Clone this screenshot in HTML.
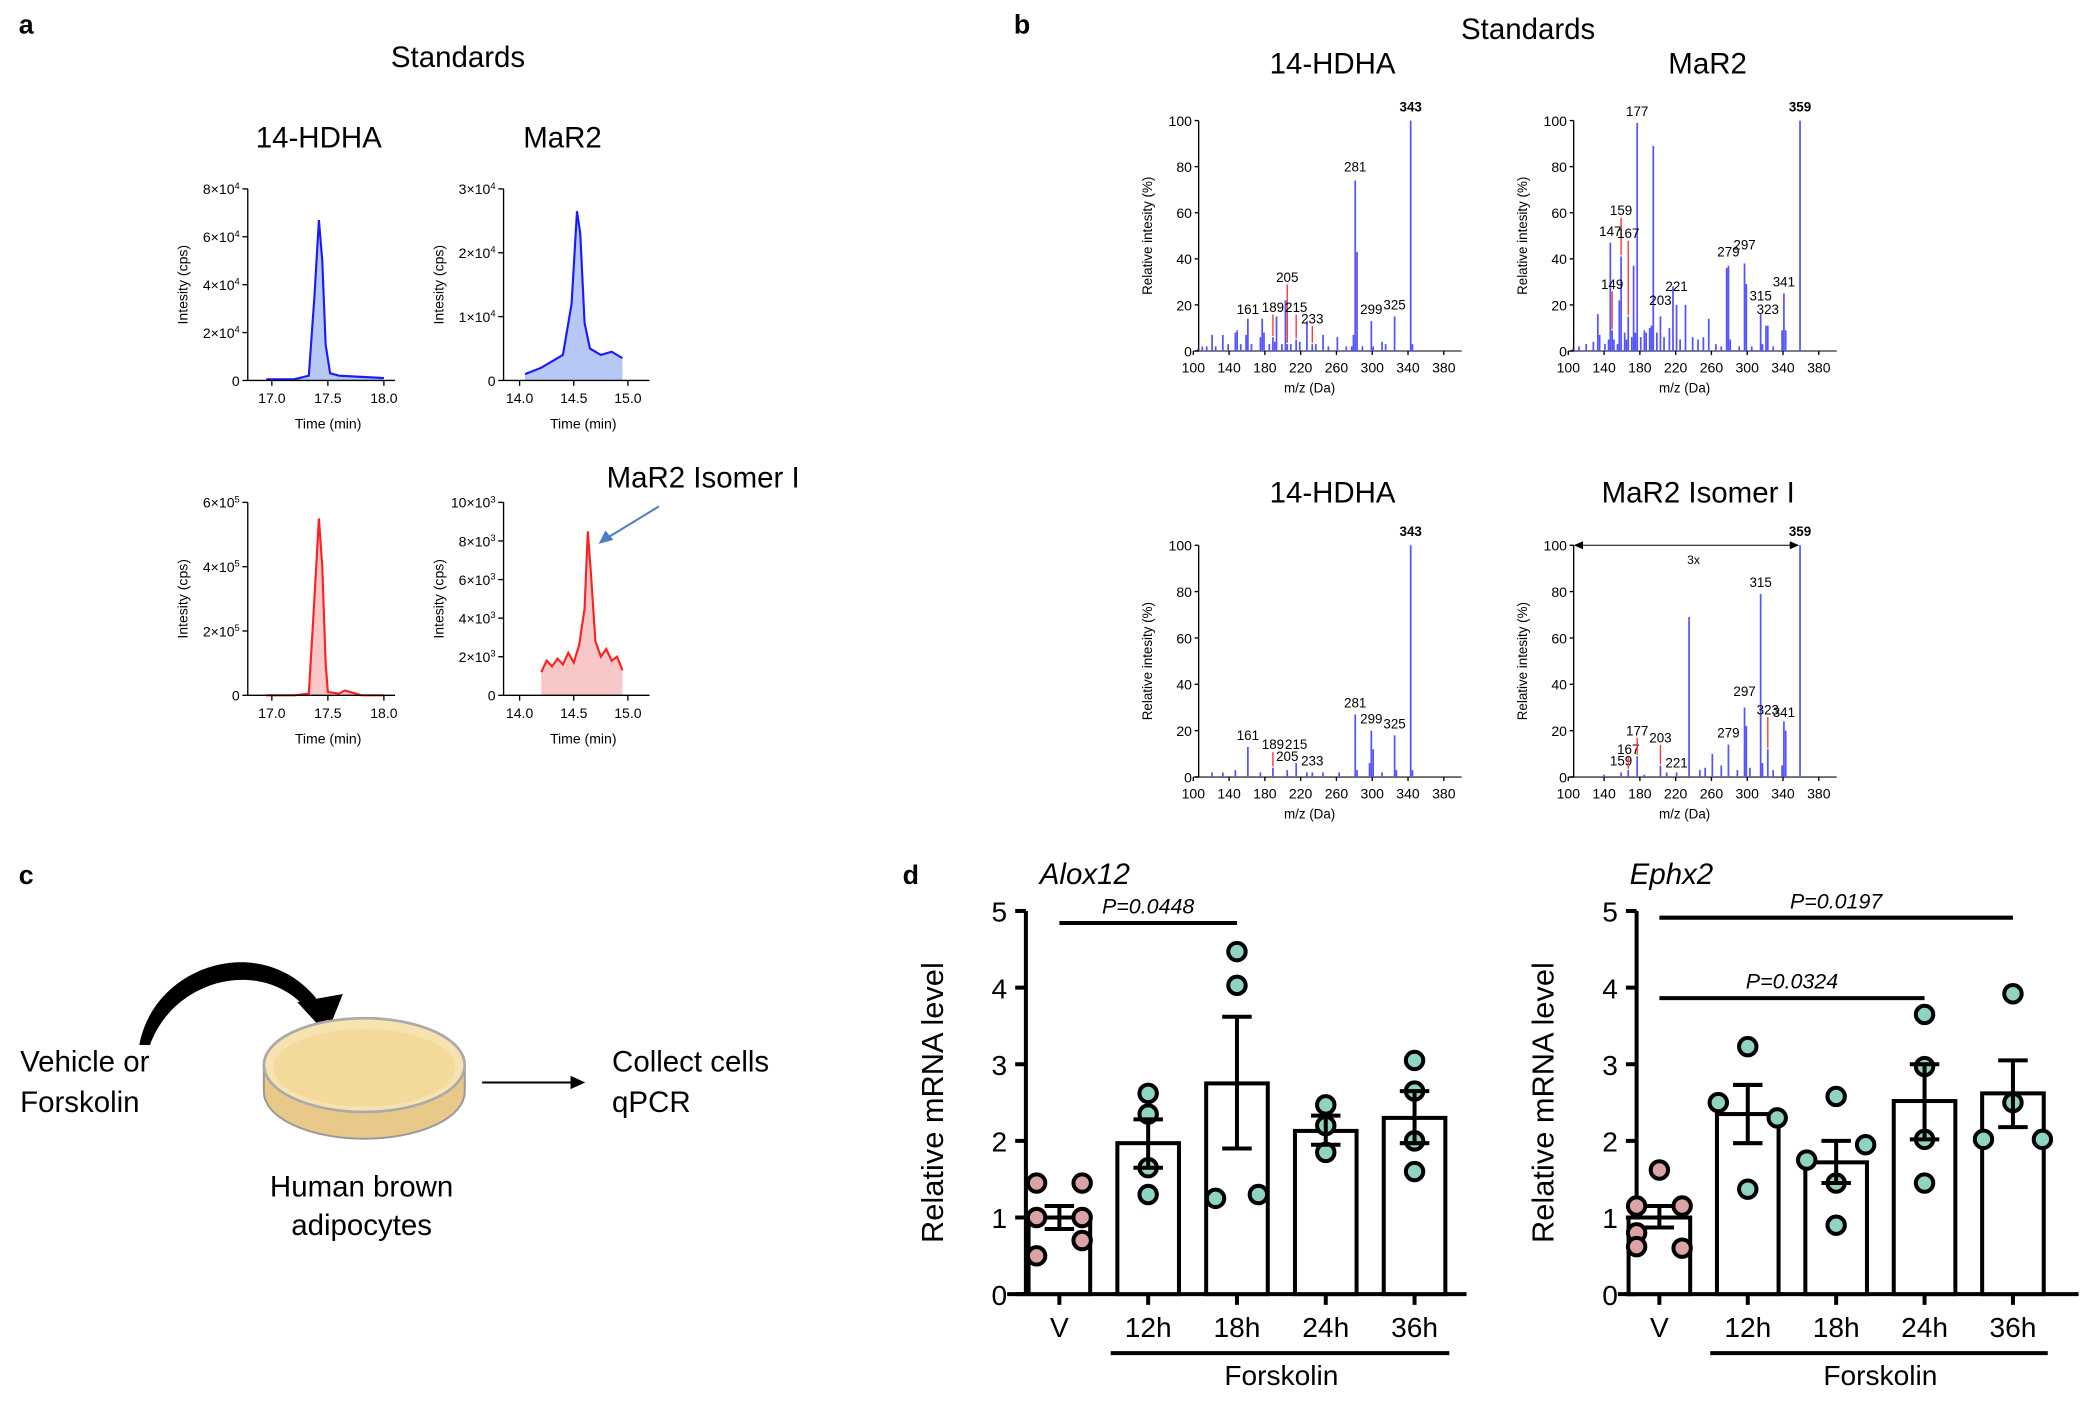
<!DOCTYPE html>
<html><head><meta charset="utf-8"><style>
html,body{margin:0;padding:0;background:#fff;}
svg{display:block;font-family:"Liberation Sans",Arial,sans-serif;}
</style></head><body>
<svg id="fig" width="2100" height="1404" viewBox="0 0 1568 1048" preserveAspectRatio="none" xmlns="http://www.w3.org/2000/svg">
<g font-weight="bold" font-size="20">
<text x="14" y="25">a</text>
<text x="757" y="25">b</text>
<text x="14" y="660">c</text>
<text x="674" y="660">d</text>
</g>
<g font-size="22" text-anchor="middle">
<text x="342" y="50">Standards</text>
<text x="238" y="110">14-HDHA</text>
<text x="420" y="110">MaR2</text>
<text x="525" y="364">MaR2 Isomer I</text>
<text x="1141" y="29">Standards</text>
<text x="995" y="55">14-HDHA</text>
<text x="1275" y="55">MaR2</text>
<text x="995" y="375">14-HDHA</text>
<text x="1268" y="375">MaR2 Isomer I</text>
</g>
<line x1="492" y1="378" x2="451" y2="403" stroke="#4a7cc9" stroke-width="1.5"/>
<polygon points="447,406 452,396 458,403" fill="#4a7cc9"/>
<g id="chrom"></g>
<g id="spec"></g>
<!-- panel c -->
<g>
<text x="15" y="800" font-size="22">Vehicle or</text>
<text x="15" y="830" font-size="22">Forskolin</text>
<path d="M104,780 C115,720 195,695 236,745 L228,752 C195,715 130,730 112,780 Z" fill="#000"/>
<polygon points="222,748 256,742 244,772" fill="#000"/>
<path d="M197,795 L197,815 A75,35 0 0 0 347,815 L347,795" fill="#e8c98a" stroke="#999" stroke-width="1.5"/>
<ellipse cx="272" cy="795" rx="75" ry="35" fill="#f6e3b0" stroke="#aaa" stroke-width="2"/>
<ellipse cx="272" cy="797" rx="68" ry="29" fill="#f3d99a"/>
<line x1="360" y1="808" x2="428" y2="808" stroke="#000" stroke-width="1.5"/>
<polygon points="437,808 426,803 426,813" fill="#000"/>
<text x="457" y="800" font-size="22">Collect cells</text>
<text x="457" y="830" font-size="22">qPCR</text>
<text x="270" y="893" font-size="22" text-anchor="middle">Human brown</text>
<text x="270" y="922" font-size="22" text-anchor="middle">adipocytes</text>
</g>
<g id="bars"></g>
</svg>
<script>
const NS="http://www.w3.org/2000/svg";
function mk(p,tag,attrs,txt){const e=document.createElementNS(NS,tag);for(const k in attrs)e.setAttribute(k,attrs[k]);if(txt!==undefined)e.textContent=txt;p.appendChild(e);return e;}

// ---------- Panel a chromatogram data ----------
const chromTL_t=[16.95,17.2,17.33,17.38,17.42,17.45,17.48,17.52,17.6,17.8,18.0];
const chromTL_v=[0.05,0.05,0.2,3.5,6.7,5.0,1.5,0.3,0.2,0.15,0.1];
const chromTR_t=[14.05,14.2,14.3,14.4,14.48,14.53,14.56,14.6,14.65,14.75,14.85,14.95];
const chromTR_v=[0.1,0.2,0.3,0.4,1.2,2.65,2.3,0.9,0.5,0.4,0.45,0.35];
const chromBL_t=[16.95,17.2,17.33,17.38,17.42,17.45,17.48,17.5,17.6,17.65,17.7,17.8,18.0];
const chromBL_v=[0,0,0.05,3.0,5.5,4.0,1.0,0.1,0.05,0.15,0.1,0,0];
const chromBR_t=[14.2,14.25,14.3,14.35,14.4,14.45,14.5,14.55,14.6,14.63,14.66,14.7,14.75,14.8,14.85,14.9,14.95];
const chromBR_v=[1.2,1.8,1.5,1.9,1.6,2.2,1.7,2.6,4.5,8.5,6.2,2.8,2.0,2.4,1.8,2.0,1.3];

const chromPanels=[
 {name:'chrom-14hdha-std',t:chromTL_t,v:chromTL_v,x0:185,x1:295,tmin:16.785,tmax:18.1,yb:284,ytop:141,max:8,step:2,exp:4,ticks:[17.0,17.5,18.0],color:'#1a1aff',fill:'#b8c8f5'},
 {name:'chrom-mar2-std',t:chromTR_t,v:chromTR_v,x0:376,x1:485,tmin:13.852,tmax:15.2,yb:284,ytop:141,max:3,step:1,exp:4,ticks:[14.0,14.5,15.0],color:'#1a1aff',fill:'#b8c8f5'},
 {name:'chrom-14hdha-sample',t:chromBL_t,v:chromBL_v,x0:185,x1:295,tmin:16.785,tmax:18.1,yb:519,ytop:375,max:6,step:2,exp:5,ticks:[17.0,17.5,18.0],color:'#ff2020',fill:'#f8c8c8'},
 {name:'chrom-mar2-isomer',t:chromBR_t,v:chromBR_v,x0:376,x1:485,tmin:13.852,tmax:15.2,yb:519,ytop:375,max:10,step:2,exp:3,ticks:[14.0,14.5,15.0],color:'#ff2020',fill:'#f8c8c8'}
];
const cg=document.getElementById('chrom');
chromPanels.forEach(p=>{
 const g=mk(cg,'g',{});
 
 
 const xs=t=>p.x0+(t-p.tmin)/(p.tmax-p.tmin)*(p.x1-p.x0);
 const ys=v=>p.yb-v/p.max*(p.yb-p.ytop);
 let d='M'+xs(p.t[0])+','+p.yb;
 p.t.forEach((t,i)=>d+=' L'+xs(t)+','+ys(p.v[i]));
 d+=' L'+xs(p.t[p.t.length-1])+','+p.yb+' Z';
 const area=mk(g,'path',{d:d,fill:p.fill,stroke:'none'});
 
 
 const ln=mk(g,'polyline',{points:p.t.map((t,i)=>xs(t)+','+ys(p.v[i])).join(' '),fill:'none',stroke:p.color,'stroke-width':1.6});
 
 
 mk(g,'line',{x1:p.x0,y1:p.ytop,x2:p.x0,y2:p.yb,stroke:'#000','stroke-width':1});
 mk(g,'line',{x1:p.x0,y1:p.yb,x2:p.x1,y2:p.yb,stroke:'#000','stroke-width':1});
 for(let v=0;v<=p.max+1e-9;v+=p.step){
  mk(g,'line',{x1:p.x0-4,y1:ys(v),x2:p.x0,y2:ys(v),stroke:'#000'});
  const tx=mk(g,'text',{x:p.x0-6,y:ys(v)+4,'font-size':10.5,'text-anchor':'end'});
  if(v===0){tx.textContent='0';}else{tx.textContent=v+'×10';mk(tx,'tspan',{'font-size':7,dy:-4},String(p.exp));}
 }
 p.ticks.forEach(t=>{
  mk(g,'line',{x1:xs(t),y1:p.yb,x2:xs(t),y2:p.yb+4,stroke:'#000'});
  mk(g,'text',{x:xs(t),y:p.yb+17,'font-size':10.5,'text-anchor':'middle'},t.toFixed(1));
 });
 mk(g,'text',{x:(p.x0+p.x1)/2+5,y:p.yb+36,'font-size':10.5,'text-anchor':'middle'},'Time (min)');
 const cy=(p.yb+p.ytop)/2;
 mk(g,'text',{x:p.x0-45,y:cy,'font-size':10.5,'text-anchor':'middle',transform:`rotate(-90 ${p.x0-45} ${cy})`},'Intesity (cps)');
});

// ---------- Panel b spectra data ----------
const specA_mz=[105,110,115,121,125,133,139,147,149,153,159,161,165,175,177,179,185,189,191,193,199,203,205,209,215,219,227,233,237,245,251,261,271,277,279,281,283,289,299,301,311,315,325,343,345];
const specA_int=[1,2,2,7,2,7,3,8,9,3,7,14,3,6,14,8,3,6,4,15,3,22,3,3,5,4,13,3,3,7,2,6,2,2,7,74,43,2,13,2,4,3,15,100,3];
const specB_mz=[105,112,120,128,133,135,141,145,147,149,151,155,157,159,163,165,167,171,173,175,177,181,185,187,191,193,195,199,203,207,213,217,221,225,231,239,245,251,257,265,271,277,279,281,291,297,299,305,315,317,321,323,329,339,341,343,359];
const specB_int=[1,2,3,4,16,7,3,5,47,9,5,3,22,41,8,5,15,6,37,8,99,6,9,8,10,11,89,8,15,6,10,28,20,5,20,6,5,6,14,3,2,36,37,5,2,38,29,2,16,3,11,11,2,9,25,9,100];
const specC_mz=[121,133,147,161,175,189,205,215,227,233,245,263,281,283,297,299,301,311,325,327,343,345];
const specC_int=[2,2,3,13,2,4,3,6,2,2,2,2,27,3,6,20,12,2,18,3,100,3];
const specD_mz=[140,159,167,177,185,203,210,221,235,247,253,261,271,279,289,297,299,303,315,317,323,329,339,341,343,359];
const specD_int=[1,2,3,9,1,5,2,2,69,3,4,10,5,14,3,30,22,4,79,6,12,3,5,24,20,100];
const specA_lab=[161,189,205,215,233,281,299,325,343];
const specA_labY=[16,17,30,17,12,78,16,18,104];
const specB_lab=[147,149,159,167,177,203,221,279,297,315,323,341,359];
const specB_labY=[50,27,59,49,102,20,26,41,44,22,16,28,104];
const specC_lab=[161,189,205,215,233,281,299,325,343];
const specC_labY=[16,12,7,12,5,30,23,21,104];
const specD_lab=[159,167,177,203,221,279,297,315,323,341,359];
const specD_labY=[5,10,18,15,4,17,35,82,27,26,104];

const specPanels=[
 {name:'spectrum-14hdha-std',mz:specA_mz,it:specA_int,lab:specA_lab,labY:specA_labY,x0:895,yb:262,yt:90,bold:343},
 {name:'spectrum-mar2-std',mz:specB_mz,it:specB_int,lab:specB_lab,labY:specB_labY,x0:1175,yb:262,yt:90,bold:359},
 {name:'spectrum-14hdha-sample',mz:specC_mz,it:specC_int,lab:specC_lab,labY:specC_labY,x0:895,yb:580,yt:407,bold:343},
 {name:'spectrum-mar2-isomer',mz:specD_mz,it:specD_int,lab:specD_lab,labY:specD_labY,x0:1175,yb:580,yt:407,bold:359,scale:true}
];
const sg=document.getElementById('spec');
specPanels.forEach(p=>{
 const g=mk(sg,'g',{});
 
 
 const xs=m=>p.x0-4+(m-100)*0.668;
 const ys=v=>p.yb-v/100*(p.yb-p.yt);
 const xEnd=xs(400);
 mk(g,'line',{x1:p.x0-4,y1:p.yb,x2:xEnd,y2:p.yb,stroke:'#555','stroke-width':1.2});
 mk(g,'line',{x1:p.x0,y1:p.yt,x2:p.x0,y2:p.yb,stroke:'#000','stroke-width':1});
 p.mz.forEach((m,i)=>{
  const b=mk(g,'line',{x1:xs(m),y1:p.yb,x2:xs(m),y2:ys(p.it[i]),stroke:'#5555ff','stroke-width':1.3});
  
  
 });
 for(let v=0;v<=100;v+=20){
  mk(g,'line',{x1:p.x0-3,y1:ys(v),x2:p.x0,y2:ys(v),stroke:'#000'});
  mk(g,'text',{x:p.x0-5,y:ys(v)+4,'font-size':10.5,'text-anchor':'end'},String(v));
 }
 for(let m=100;m<=380;m+=40){
  mk(g,'line',{x1:xs(m),y1:p.yb,x2:xs(m),y2:p.yb+3,stroke:'#000'});
  mk(g,'text',{x:xs(m),y:p.yb+16,'font-size':10.5,'text-anchor':'middle'},String(m));
 }
 mk(g,'text',{x:xs(230),y:p.yb+31,'font-size':10,'text-anchor':'middle'},'m/z (Da)');
 const cy=(p.yb+p.yt)/2;
 mk(g,'text',{x:p.x0-35,y:cy,'font-size':10,'text-anchor':'middle',transform:`rotate(-90 ${p.x0-35} ${cy})`},'Relative intesity (%)');
 p.lab.forEach((m,i)=>{
  const idx=p.mz.indexOf(m);const pk=idx>=0?p.it[idx]:0;
  const ly=ys(p.labY[i]);
  if(p.labY[i]-pk>6){mk(g,'line',{x1:xs(m),y1:ly+2,x2:xs(m),y2:ys(pk)-1,stroke:'#ff3030','stroke-width':1});}
  mk(g,'text',{x:xs(m),y:ly,'font-size':10,'text-anchor':'middle','font-weight':m===p.bold?'bold':'normal'},String(m));
 });
 if(p.scale){
  mk(g,'line',{x1:p.x0+2,y1:p.yt,x2:xs(357),y2:p.yt,stroke:'#000','stroke-width':0.8});
  mk(g,'polygon',{points:`${p.x0},${p.yt} ${p.x0+7},${p.yt-3} ${p.x0+7},${p.yt+3}`});
  mk(g,'polygon',{points:`${xs(358)},${p.yt} ${xs(358)-7},${p.yt-3} ${xs(358)-7},${p.yt+3}`});
  mk(g,'text',{x:xs(240),y:p.yt+14,'font-size':9,'text-anchor':'middle'},'3x');
 }
});

// ---------- Panel d bar charts ----------
const barCats=['V','12h','18h','24h','36h'];
const aloxMean=[1.0,1.97,2.75,2.13,2.3];
const aloxErrLo=[0.85,1.65,1.9,1.95,1.97];
const aloxErrHi=[1.15,2.28,3.62,2.33,2.65];
const aloxPts=[[1.45,1.45,1.0,1.0,0.7,0.5],[2.62,2.35,1.65,1.3],[4.47,4.03,1.25,1.3],[2.47,2.2,1.85],[3.05,2.65,2.0,1.6]];
const ephxMean=[1.0,2.35,1.72,2.52,2.62];
const ephxErrLo=[0.87,1.97,1.45,2.02,2.18];
const ephxErrHi=[1.15,2.73,2.0,3.0,3.05];
const ephxPts=[[1.62,1.15,1.15,0.8,0.62,0.6],[3.23,2.5,2.3,1.37],[2.58,1.95,1.75,1.45,0.9],[3.65,2.97,2.02,1.45],[3.92,2.5,2.02,2.02]];
const yTicks=[0,1,2,3,4,5];
const jitterE=[[0,-17,17,-17,-17,17],[0,-22,22,0],[0,22,-22,0,0],[0,0,0,0],[0,0,-22,22]];
const jitterA=[[-17,17,17,-17,17,-17],[0,0,0,0],[0,0,-16,16],[0,0,0],[0,0,0,0]];

const bg=document.getElementById('bars');
function barChart(o){
 const g=mk(bg,'g',{});
 
 
 const ys=v=>966-v*57.2;
 const xs=i=>o.xc0+i*o.dx;
 mk(g,'line',{x1:o.ax,y1:ys(5),x2:o.ax,y2:966,stroke:'#000','stroke-width':3});
 mk(g,'line',{x1:o.ax-14,y1:966,x2:o.xEnd,y2:966,stroke:'#000','stroke-width':3});
 yTicks.forEach(v=>{
  mk(g,'line',{x1:o.ax-8,y1:ys(v),x2:o.ax,y2:ys(v),stroke:'#000','stroke-width':3});
  mk(g,'text',{x:o.ax-14,y:ys(v)+8,'font-size':21,'text-anchor':'end'},String(v));
 });
 const cy=ys(2.5);
 const lx=o.ax-62;
 mk(g,'text',{x:lx,y:cy,'font-size':23,'text-anchor':'middle',transform:`rotate(-90 ${lx} ${cy})`},'Relative mRNA level');
 mk(g,'text',{x:o.titleX,y:660,'font-size':22,'font-style':'italic','text-anchor':'middle'},o.title);
 barCats.forEach((c,i)=>{
  const x=xs(i);
  const r=mk(g,'rect',{x:x-23,y:ys(o.mean[i]),width:46,height:966-ys(o.mean[i]),fill:'#fff',stroke:'#000','stroke-width':3});
  
  
  mk(g,'line',{x1:x,y1:966,x2:x,y2:974,stroke:'#000','stroke-width':3});
  mk(g,'text',{x:x,y:998,'font-size':21,'text-anchor':'middle'},c);
  o.pts[i].forEach((v,j)=>{
   const d=mk(g,'circle',{cx:x+o.jit[i][j],cy:ys(v),r:6.5,fill:i===0?'#dba3a3':'#8fd4c2',stroke:'#000','stroke-width':3});
   
   
  });
  const e=mk(g,'line',{x1:x,y1:ys(o.lo[i]),x2:x,y2:ys(o.hi[i]),stroke:'#000','stroke-width':3});
  
  
  mk(g,'line',{x1:x-11,y1:ys(o.lo[i]),x2:x+11,y2:ys(o.lo[i]),stroke:'#000','stroke-width':3});
  mk(g,'line',{x1:x-11,y1:ys(o.hi[i]),x2:x+11,y2:ys(o.hi[i]),stroke:'#000','stroke-width':3});
 });
 mk(g,'line',{x1:xs(1)-28,y1:1010,x2:xs(4)+26,y2:1010,stroke:'#000','stroke-width':3});
 mk(g,'text',{x:(xs(1)+xs(4))/2,y:1034,'font-size':21,'text-anchor':'middle'},'Forskolin');
 o.sig.forEach(s=>{
  mk(g,'line',{x1:xs(s.a),y1:s.y,x2:xs(s.b),y2:s.y,stroke:'#000','stroke-width':3});
  mk(g,'text',{x:(xs(s.a)+xs(s.b))/2,y:s.y-7,'font-size':16,'font-style':'italic','text-anchor':'middle'},s.t);
 });
}
barChart({name:'alox12-chart',title:'Alox12',titleX:810,ax:766,xEnd:1095,xc0:791,dx:66.3,mean:aloxMean,lo:aloxErrLo,hi:aloxErrHi,pts:aloxPts,jit:jitterA,sig:[{a:0,b:2,y:689,t:'P=0.0448'}]});
barChart({name:'ephx2-chart',title:'Ephx2',titleX:1248,ax:1222,xEnd:1552,xc0:1239,dx:66,mean:ephxMean,lo:ephxErrLo,hi:ephxErrHi,pts:ephxPts,jit:jitterE,sig:[{a:0,b:4,y:685,t:'P=0.0197'},{a:0,b:3,y:745,t:'P=0.0324'}]});
</script>
</body></html>
